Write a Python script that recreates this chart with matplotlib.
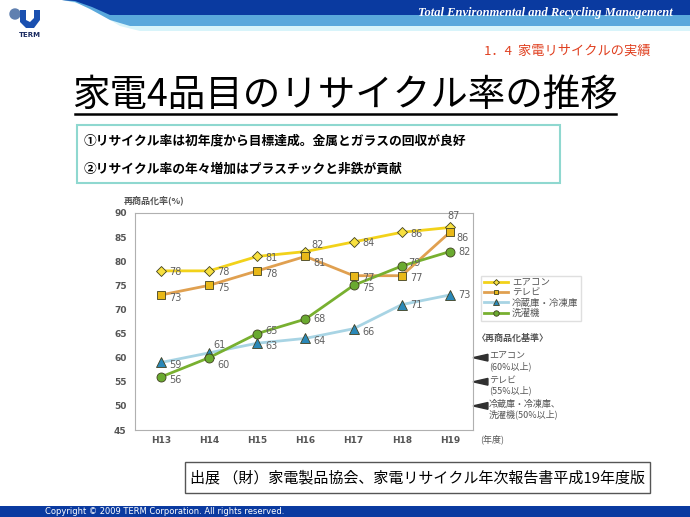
import matplotlib.pyplot as plt
from matplotlib.patches import Polygon, Rectangle, Circle

plt.rcParams['font.family'] = ['Noto Sans CJK JP', 'DejaVu Sans']

# data
years = ["H13", "H14", "H15", "H16", "H17", "H18", "H19"]
aircon = [78, 78, 81, 82, 84, 86, 87]
tv = [73, 75, 78, 81, 77, 77, 86]
fridge = [59, 61, 63, 64, 66, 71, 73]
washer = [56, 60, 65, 68, 75, 79, 82]
names = ["エアコン", "テレビ", "冷蔵庫・冷凍庫", "洗濯機"]
standards = [60, 55, 50]
standard_text = [["エアコン", "(60%以上)"], ["テレビ", "(55%以上)"],
                 ["冷蔵庫・冷凍庫、", "洗濯機(50%以上)"]]

W, H = 690, 517
fig = plt.figure(figsize=(6.9, 5.17), dpi=100)

# background layer in pixel coords
bg = fig.add_axes([0, 0, 1, 1])
bg.set_xlim(0, W)
bg.set_ylim(H, 0)
bg.axis('off')

# header bands
bg.add_patch(Polygon([(62, 0), (W, 0), (W, 31), (140, 31), (120, 26), (100, 14), (80, 4)],
                     closed=True, color='#d8f4fa', lw=0))
bg.add_patch(Polygon([(62, 0), (W, 0), (W, 26), (130, 26), (110, 20), (90, 9), (75, 2)],
                     closed=True, color='#5aa8dc', lw=0))
bg.add_patch(Polygon([(62, 0), (W, 0), (W, 15), (110, 15), (92, 7), (75, 1)],
                     closed=True, color='#0a3aa0', lw=0))
bg.text(673, 13, "Total Environmental and Recycling Management", color='white',
        fontsize=9, fontstyle='italic', fontweight='bold', family='Liberation Serif',
        ha='right', va='center')

# logo
bg.add_patch(Circle((15, 14), 5, color='#6080b0'))
bg.add_patch(Polygon([(20, 10), (26, 10), (26, 20), (30, 22), (34, 18), (34, 10), (40, 10),
                      (40, 20), (34, 28), (26, 28), (20, 22)], closed=True, color='#1a50b0', lw=0))
bg.text(30, 35, "TERM", fontsize=5, fontweight='bold', color='#1a2a60', ha='center', va='center',
        family='DejaVu Sans')

bg.text(650, 51, "1．4  家電リサイクルの実績", color='#e04020', fontsize=9.5,
        ha='right', va='center')

# title
bg.text(345, 95, "家電4品目のリサイクル率の推移", fontsize=27, ha='center', va='center')
bg.plot([75, 616], [114, 114], color='black', lw=1.8)

# bullet box
bg.add_patch(Rectangle((77, 125), 483, 58, fill=False, edgecolor='#8fd8d0', lw=1.5))
bg.text(84, 141, "①リサイクル率は初年度から目標達成。金属とガラスの回収が良好",
        fontsize=9.2, va='center', fontweight='bold')
bg.text(84, 169, "②リサイクル率の年々増加はプラスチックと非鉄が貢献",
        fontsize=9.2, va='center', fontweight='bold')

# source box
bg.add_patch(Rectangle((185, 462), 465, 31, fill=False, edgecolor='#555555', lw=1))
bg.text(418, 478, "出展 （財）家電製品協会、家電リサイクル年次報告書平成19年度版",
        fontsize=10.8, ha='center', va='center')

# footer
bg.add_patch(Rectangle((0, 506), W, 11, color='#0a3aa0', lw=0))
bg.text(45, 512, "Copyright © 2009 TERM Corporation. All rights reserved.",
        color='white', fontsize=6, va='center', family='DejaVu Sans')

# chart
ax = fig.add_axes([135 / W, 1 - 430 / H, 338 / W, 217 / H])
x = list(range(len(years)))
series = [
    (aircon, '#f2d21a', 'D', '#f7e040', 5),
    (tv, '#e0a050', 's', '#e8b818', 6),
    (fridge, '#a8d4e4', '^', '#2a88b8', 6.5),
    (washer, '#78b030', 'o', '#6aaa30', 6.5),
]
for (vals, lc, mk, fc, ms), nm in zip(series, names):
    ax.plot(x, vals, color=lc, lw=2, marker=mk, markersize=ms, markerfacecolor=fc,
            markeredgecolor='#404020', markeredgewidth=0.6, label=nm)

offsets = {
    0: [(6, -1)] * 3 + [(4, 5), (6, -1), (6, -1), (-2, 8)],
    1: [(6, -2)] * 3 + [(6, -5), (6, -2), (6, -2), (5, -4)],
    2: [(6, -2), (3, 6), (6, -2), (6, -2), (6, -2), (6, 0), (6, 0)],
    3: [(6, -2), (6, -5), (6, 2), (6, 0), (6, -2), (5, 2), (6, 0)],
}
for i, (vals, *_rest) in enumerate(series):
    for xi, v in zip(x, vals):
        dx, dy = offsets[i][xi]
        ax.annotate(str(v), (xi, v), xytext=(dx, dy), textcoords='offset points',
                    fontsize=7, color='#606060', va='center', family='DejaVu Sans')

ax.set_xlim(-0.54, 6.48)
ax.set_ylim(45, 90)
ax.set_yticks(range(45, 91, 5))
ax.set_xticks(x)
ax.set_xticklabels(years)
ax.tick_params(length=0, labelsize=6.5, labelcolor='#555555')
ax.tick_params(axis='y', pad=6)
ax.tick_params(axis='x', pad=4)
for lab in ax.get_xticklabels() + ax.get_yticklabels():
    lab.set_family('DejaVu Sans')
    lab.set_fontweight('bold')
for s in ax.spines.values():
    s.set_color('#b0b0b0')
    s.set_linewidth(0.8)

# standards arrows (wedges pointing at the frame)
for v in standards:
    ax.add_patch(Polygon([(6.48, v), (6.79, v + 0.7), (6.79, v - 0.7)], closed=True,
                         color='#303030', clip_on=False))

leg = ax.legend(loc='upper left', bbox_to_anchor=(476 / W, 1 - 271 / H), bbox_transform=fig.transFigure,
                fontsize=6.8, frameon=True, fancybox=False, edgecolor='#d8d8d8',
                handlelength=2.6, markerscale=0.6, borderpad=0.3, labelspacing=0.1,
                handletextpad=0.4)
for t in leg.get_texts():
    t.set_color('#555555')

bg.text(477, 338, "〈再商品化基準〉", fontsize=6.5, color='#555555', va='center', fontweight='bold')
for v, lines in zip(standards, standard_text):
    py = 213 + (90 - v) * 215 / 45
    bg.text(489, py, lines[0], fontsize=6.5, color='#555555', va='center')
    bg.text(489, py + 10.5, lines[1], fontsize=6.5, color='#555555', va='center')

bg.text(124, 200, "再商品化率(%)", fontsize=6.5, color='#555555', va='center', fontweight='bold')
bg.text(480, 439, "(年度)", fontsize=6.5, color='#555555', va='center')

fig.savefig("out.png", dpi=100)
